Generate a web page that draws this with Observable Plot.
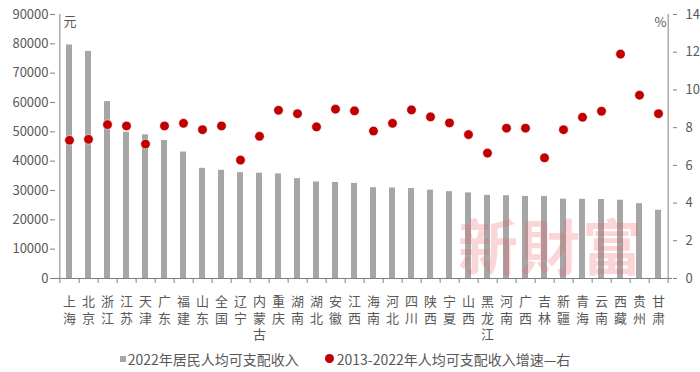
<!DOCTYPE html>
<html>
<head>
<meta charset="utf-8">
<script src="https://cdn.jsdelivr.net/npm/d3@7"></script>
<script src="https://cdn.jsdelivr.net/npm/@observablehq/plot@0.6"></script>
<style>
  html, body { margin: 0; padding: 0; background: #fff; }
  body { width: 700px; height: 372px; overflow: hidden; font-family: "Noto Sans CJK SC", "Noto Sans", sans-serif; position: relative; }
  #legend { display: flex; justify-content: center; align-items: center; height: 27px; font-size: 14px; color: #595959; padding-right: 10px; }
  .item { display: flex; align-items: center; margin: 0 13px; }
  .sq { width: 6px; height: 6px; background: #a6a6a6; margin-right: 2px; }
  .dot { width: 9px; height: 9px; border-radius: 50%; background: #c00000; margin-right: 3px; }
  #wm { position: absolute; left: 458px; top: 214px; font-size: 60px; font-weight: bold; color: rgba(235, 90, 100, 0.25); letter-spacing: 2px; font-family: "Noto Sans CJK SC", serif; line-height: 1; pointer-events: none; }
</style>
</head>
<body>
<div id="chart"></div>
<div id="legend">
  <div class="item"><div class="sq"></div><span>2022年居民人均可支配收入</span></div>
  <div class="item"><div class="dot"></div><span>2013-2022年人均可支配收入增速—右</span></div>
</div>
<div id="wm">新財富</div>
<script>
const regions = ["上海","北京","浙江","江苏","天津","广东","福建","山东","全国","辽宁","内蒙古","重庆","湖南","湖北","安徽","江西","海南","河北","四川","陕西","宁夏","山西","黑龙江","河南","广西","吉林","新疆","青海","云南","西藏","贵州","甘肃"];
const income2022 = [79610,77415,60302,49862,48976,47065,43118,37560,36883,36089,35921,35666,34036,32914,32745,32419,30957,30867,30679,30116,29599,29178,28346,28222,27981,27975,27063,27000,26937,26675,25508,23273];
const growth = [7.33,7.38,8.16,8.09,7.13,8.09,8.23,7.89,8.09,6.28,7.54,8.92,8.74,8.04,8.98,8.89,7.82,8.23,8.94,8.57,8.25,7.63,6.65,7.97,7.97,6.40,7.89,8.55,8.87,11.9,9.72,8.74];
const leftTicks = [0,10000,20000,30000,40000,50000,60000,70000,80000,90000];
const rightTicks = [0,2,4,6,8,10,12,14];

const data = regions.map((r, i) => ({region: r, income: income2022[i], growth: growth[i]}));
const yMax = 90000, rMax = 14;
const toLeft = v => v * yMax / rMax;

const W = 700, H = 345, mL = 55, mR = 28, mT = 14, mB = 67;
const step = (W - mL - mR) / regions.length;
const plotH = H - mT - mB;
const tickData = -5 * yMax / plotH;
const grey = "#595959", axisCol = "#808080";

const chart = Plot.plot({
  width: W, height: H,
  marginLeft: mL, marginRight: mR, marginTop: mT, marginBottom: mB,
  style: {fontFamily: "'Noto Sans CJK SC', sans-serif", fontSize: "13px", color: grey, background: "white"},
  x: {domain: regions, paddingInner: 0.7, paddingOuter: 0.35, axis: null},
  y: {domain: [0, yMax], axis: null},
  marks: [
    Plot.barY(data, {x: "region", y: "income", fill: "#a6a6a6"}),
    Plot.ruleX([regions[0]], {x: d => d, y1: 0, y2: yMax, dx: -step / 2, stroke: axisCol}),
    Plot.ruleX([regions[regions.length - 1]], {x: d => d, y1: 0, y2: yMax, dx: step / 2, stroke: axisCol}),
    Plot.ruleY([0], {stroke: axisCol}),
    Plot.ruleX(regions, {x: d => d, y1: 0, y2: tickData, dx: step / 2, stroke: axisCol}),
    Plot.ruleX([regions[0]], {x: d => d, y1: 0, y2: tickData, dx: -step / 2, stroke: axisCol}),
    Plot.axisY(leftTicks, {anchor: "left", label: null, tickSize: 5, tickPadding: 2, stroke: axisCol, fill: grey, fontSize: 13, tickFormat: d => String(d)}),
    Plot.axisY(rightTicks.map(toLeft), {anchor: "right", label: null, tickSize: 4, tickPadding: 9, stroke: axisCol, fill: grey, fontSize: 13, tickFormat: d => String(Math.round(d * rMax / yMax))}),
    Plot.text(data, {x: "region", y: 0, text: "region", dy: 12, textAnchor: "start", fontSize: 13, fill: grey}),
    Plot.dot(data, {x: "region", y: d => toLeft(d.growth), r: 4.8, fill: "#c00000", stroke: "white", strokeWidth: 0.6}),
    Plot.text(["元"], {frameAnchor: "top-left", dx: 8, dy: 2, textAnchor: "start", fontSize: 13, fill: grey}),
    Plot.text(["%"], {frameAnchor: "top-right", dx: -6, dy: 3, textAnchor: "end", fontSize: 13, fill: grey})
  ]
});
const regionSet = new Set(regions);
chart.querySelectorAll("text").forEach(t => {
  if (!regionSet.has(t.textContent)) return;
  t.removeAttribute("dy");
  t.setAttribute("writing-mode", "vertical-rl");
  t.style.writingMode = "vertical-rl";
  t.style.textOrientation = "upright";
  t.style.letterSpacing = "3.5px";
});
document.getElementById("chart").appendChild(chart);
</script>
</body>
</html>
